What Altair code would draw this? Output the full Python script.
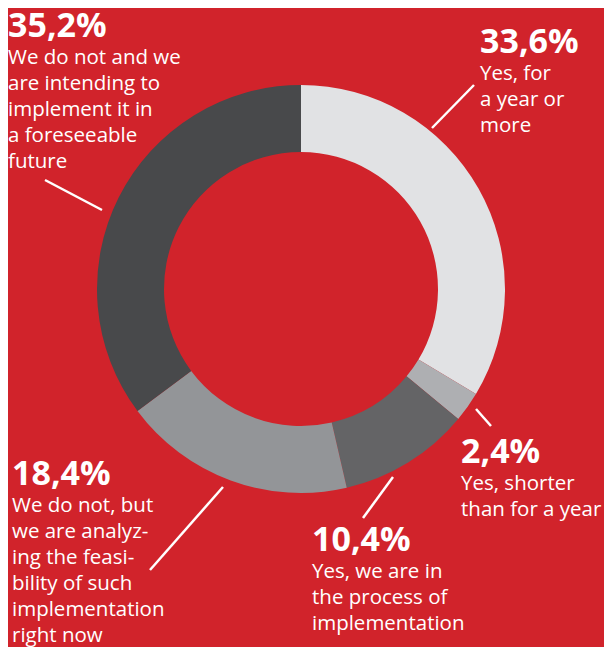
import altair as alt
import pandas as pd

# ---- data ----
categories = [
    "Yes, for a year or more",
    "Yes, shorter than for a year",
    "Yes, we are in the process of implementation",
    "We do not, but we are analyzing the feasibility of such implementation right now",
    "We do not and we are intending to implement it in a foreseeable future",
]
values = [33.6, 2.4, 10.4, 18.4, 35.2]
pct_labels = ["33,6%", "2,4%", "10,4%", "18,4%", "35,2%"]
body_labels = [
    "Yes, for\na year or\nmore",
    "Yes, shorter\nthan for a year",
    "Yes, we are in\nthe process of\nimplementation",
    "We do not, but\nwe are analyz-\ning the feasi-\nbility of such\nimplementation\nright now",
    "We do not and we\nare intending to\nimplement it in\na foreseeable\nfuture",
]
colors = ["#E1E2E4", "#AEAFB2", "#646466", "#939598", "#48494B"]

# ---- layout (page coords minus the 8px page margin) ----
M = 8
W, H = 612 - 2 * M, 655 - 2 * M
cx, cy = 301 - M, 289 - M
label_x = [480 - M, 461 - M, 312 - M, 12 - M, 8 - M]
label_y = [53 - M, 463 - M, 551 - M, 485 - M, 37 - M]
line_x = [474 - M, 476 - M, 393 - M, 223 - M, 45 - M]
line_y = [85 - M, 409 - M, 477 - M, 487 - M, 180 - M]
line_x2 = [432 - M, 491 - M, 363 - M, 150 - M, 102 - M]
line_y2 = [128 - M, 426 - M, 518 - M, 570 - M, 210 - M]

df = pd.DataFrame({
    "category": categories,
    "value": values,
    "order": list(range(len(values))),
    "pct": pct_labels,
    "body": body_labels,
    "lx": label_x,
    "ly": label_y,
    "by": [v + 26.5 for v in label_y],
    "x1": line_x,
    "y1": line_y,
    "x2": line_x2,
    "y2": line_y2,
})

base = alt.Chart(df)

arcs = base.mark_arc(outerRadius=204, innerRadius=137, stroke=None).encode(
    theta=alt.Theta("value:Q", stack=True),
    order=alt.Order("order:Q"),
    color=alt.Color("category:N", scale=alt.Scale(domain=categories, range=colors), legend=None),
    x=alt.value(cx),
    y=alt.value(cy),
)

rules = base.mark_rule(color="white", strokeWidth=2.5).encode(
    x=alt.X("x1:Q", scale=None),
    y=alt.Y("y1:Q", scale=None),
    x2="x2:Q",
    y2="y2:Q",
)

pct_text = base.mark_text(
    align="left", baseline="alphabetic", font="Open Sans", fontWeight="bold",
    fontSize=34, color="white",
).encode(
    x=alt.X("lx:Q", scale=None),
    y=alt.Y("ly:Q", scale=None),
    text="pct:N",
)

body_text = base.mark_text(
    align="left", baseline="alphabetic", font="Open Sans",
    fontSize=20.5, color="white", lineBreak="\n", lineHeight=26,
).encode(
    x=alt.X("lx:Q", scale=None),
    y=alt.Y("by:Q", scale=None),
    text="body:N",
)

chart = alt.layer(arcs, rules, pct_text, body_text).properties(
    width=W,
    height=H,
    padding=0,
    background="#D1232B",
    autosize=alt.AutoSizeParams(type="none"),
).configure_view(stroke=None)

chart.save("out.html", embed_options={"renderer": "svg", "actions": False})
